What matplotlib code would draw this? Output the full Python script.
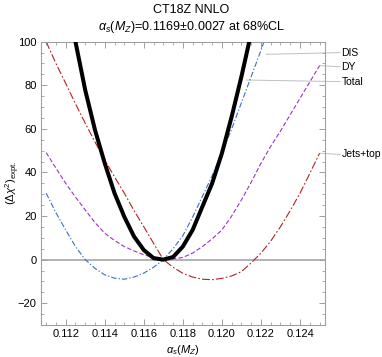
import matplotlib
matplotlib.use("Agg")
import matplotlib.pyplot as plt
from matplotlib.ticker import MultipleLocator, FixedLocator

plt.rcParams['font.family'] = ['Liberation Sans', 'DejaVu Sans']
plt.rcParams['mathtext.fontset'] = 'custom'
plt.rcParams['mathtext.rm'] = 'Liberation Sans'
plt.rcParams['mathtext.it'] = 'Liberation Sans:italic'
plt.rcParams['mathtext.bf'] = 'Liberation Sans:bold'

# ---- data ----
alpha = [0.1110, 0.1115, 0.1120, 0.1125, 0.1130, 0.1135, 0.1140, 0.1145,
         0.1150, 0.1155, 0.1160, 0.1165, 0.1170, 0.1175, 0.1180, 0.1185,
         0.1190, 0.1195, 0.1200, 0.1205, 0.1210, 0.1215, 0.1220, 0.1225,
         0.1230, 0.1235, 0.1240, 0.1245, 0.1250]
dis = [30.5, 21.5, 13.6, 6.0, 0.0, -4.0, -7.0, -8.5,
       -9.0, -8.0, -6.2, -3.5, 0.0, 5.0, 11.0, 19.5,
       29.0, 38.5, 49.0, 60.0, 72.0, 84.0, 96.0, 109.0,
       122.0, 136.0, 150.0, 165.0, 180.0]
dy = [49.1, 42.0, 35.0, 28.7, 22.8, 17.0, 12.1, 8.8,
      6.0, 4.0, 2.2, 0.9, 0.0, 0.3, 1.0, 3.0,
      6.0, 9.5, 13.6, 20.0, 27.4, 35.5, 44.2, 52.0,
      59.0, 66.5, 74.0, 81.5, 89.0]
jets = [100.0, 90.0, 80.9, 71.5, 62.6, 54.0, 45.7, 38.0,
        30.5, 22.5, 15.1, 7.5, 0.0, -3.5, -6.3, -8.0,
        -9.0, -9.2, -8.6, -7.5, -5.5, -1.5, 3.0, 8.5,
        15.1, 22.5, 30.5, 39.5, 48.8]
alpha_total = [0.1110, 0.1115, 0.1120, 0.1125, 0.1130, 0.1135, 0.1140, 0.1145,
               0.1150, 0.1155, 0.1160, 0.1165, 0.1170, 0.1175, 0.1180, 0.1185,
               0.1190, 0.1195, 0.1200, 0.1205, 0.1210, 0.1215, 0.1220, 0.1225]
total = [190.0, 155.0, 125.0, 100.0, 77.8, 59.5, 44.2, 30.5,
         19.7, 10.6, 4.4, 0.7, 0.0, 1.2, 6.0, 13.6,
         24.3, 35.0, 48.8, 65.6, 84.0, 104.0, 124.0, 148.0]

labels = ['DIS', 'DY', 'Total', 'Jets+top']
label_y = [95.0, 88.5, 81.7, 48.3]
leader_start = [(0.12226, 94.2), (0.125, 89.0), (0.12127, 82.4), (0.125, 48.8)]

xticks = [0.112, 0.114, 0.116, 0.118, 0.120, 0.122, 0.124]
yticks = [-20, 0, 20, 40, 60, 80, 100]

fig = plt.figure(figsize=(3.82, 3.57), dpi=100)
ax = fig.add_axes([40.7/382, 1-325/357, (325-40.7)/382, (325-41.7)/357])

ax.axhline(0, color='#a6a6a6', lw=1.2, zorder=1)

ax.plot(alpha, jets, color='#b22222', lw=0.8, dashes=(7, 2, 1.5, 2), zorder=2)
ax.plot(alpha, dy, color='#9932cc', lw=0.8, dashes=(4, 2), zorder=2)
ax.plot(alpha, dis, color='#3a6fc4', lw=0.8, dashes=(5, 1.8, 1.2, 1.8), zorder=2)
ax.plot(alpha_total, total, color='black', lw=2.9, zorder=3,
        solid_joinstyle='round')

ax.set_xlim(0.11072, 0.12528)
ax.set_ylim(-30, 100)

ax.xaxis.set_major_locator(FixedLocator(xticks))
ax.xaxis.set_minor_locator(MultipleLocator(0.0005))
ax.yaxis.set_major_locator(FixedLocator(yticks))
ax.yaxis.set_minor_locator(MultipleLocator(5))
ax.set_xticklabels(['%.3f' % t for t in xticks])
ax.set_yticklabels(['\u2212%d' % -t if t < 0 else '%d' % t for t in yticks])

for s in ax.spines.values():
    s.set_color('#a0a0a0')
    s.set_linewidth(0.8)
ax.tick_params(which='both', direction='in', top=True, right=True,
               color='#a0a0a0', labelsize=8, pad=3, labelcolor='black')
ax.tick_params(which='major', length=4, width=0.7)
ax.tick_params(which='minor', length=2, width=0.6)

ax.set_xlabel(r'$\alpha_s(M_Z)$', fontsize=8, labelpad=3)
fig.text(13/382, 1-183/357, r'$(\Delta\chi^2)_{\mathrm{expt.}}$', fontsize=8,
         rotation=90, ha='center', va='center')

fig.text(0.5, 1-10/357, 'CT18Z NNLO', ha='center', va='center', fontsize=9)
fig.text(0.5, 1-27/357, '$\\alpha_s(M_Z)$=0.1169\u00b10.0027 at 68%CL',
         ha='center', va='center', fontsize=9)

for lab, ly, (sx, sy) in zip(labels, label_y, leader_start):
    ax.plot([sx, 0.12605], [sy, ly], color='#c0c0c0', lw=0.7, clip_on=False, zorder=1)
    ax.text(0.12613, ly, lab, ha='left', va='center', fontsize=7.5, clip_on=False)

fig.savefig('out.png', dpi=100)
